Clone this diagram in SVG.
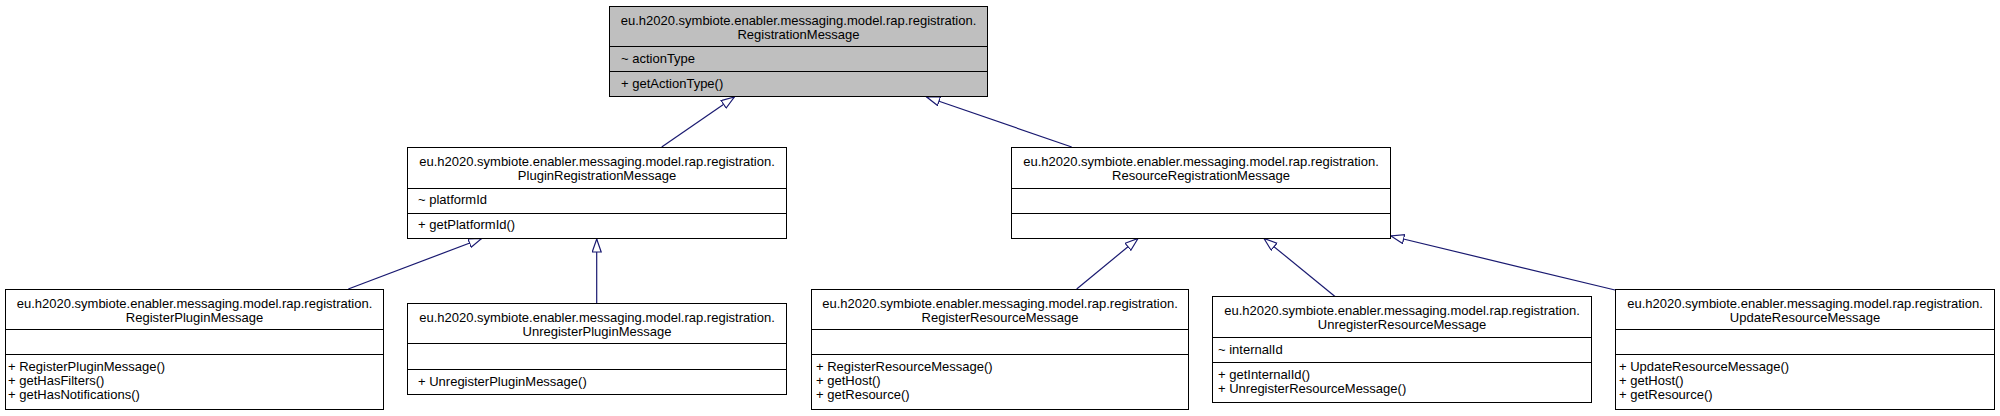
<svg xmlns="http://www.w3.org/2000/svg" width="2000" height="416" viewBox="0 0 2000 416">
<style>
.box{fill:#ffffff;stroke:#000000;stroke-width:1}
.root{fill:#bfbfbf}
.sep{stroke:#000000;stroke-width:1}
text{font-family:"Liberation Sans",Arial,sans-serif;font-size:13px;fill:#000000}
.t{text-anchor:middle}
.edge{fill:none;stroke:#191970;stroke-width:1.2}
</style>
<defs>
<marker id="inh" markerUnits="userSpaceOnUse" markerWidth="16" markerHeight="12" refX="13.5" refY="5" orient="auto">
<path d="M0.5,0.5 L13.5,5 L0.5,9.5 Z" fill="#ffffff" stroke="#191970" stroke-width="1.2"/>
</marker>
</defs>
<rect width="2000" height="416" fill="#ffffff"/>
<g id="connectors">
<line class="edge" x1="661.7" y1="147" x2="734.3" y2="97" marker-end="url(#inh)"/>
<line class="edge" x1="1071.7" y1="147" x2="926.7" y2="97" marker-end="url(#inh)"/>
<line class="edge" x1="348.3" y1="289" x2="481.7" y2="238.5" marker-end="url(#inh)"/>
<line class="edge" x1="596.7" y1="303" x2="596.7" y2="239" marker-end="url(#inh)"/>
<line class="edge" x1="1076.7" y1="289" x2="1138" y2="238.5" marker-end="url(#inh)"/>
<line class="edge" x1="1335" y1="296.5" x2="1264" y2="238.5" marker-end="url(#inh)"/>
<line class="edge" x1="1615" y1="290" x2="1391" y2="236" marker-end="url(#inh)"/>
</g>
<g id="RegistrationMessage">
<rect class="box root" x="609.5" y="6.5" width="378" height="90"/>
<line class="sep" x1="609.5" y1="46.5" x2="987.5" y2="46.5"/>
<line class="sep" x1="609.5" y1="71.5" x2="987.5" y2="71.5"/>
<text class="t" x="798.5" y="25">eu.h2020.symbiote.enabler.messaging.model.rap.registration.</text>
<text class="t" x="798.5" y="39">RegistrationMessage</text>
<text x="621" y="63">~ actionType</text>
<text x="621" y="88">+ getActionType()</text>
</g>
<g id="PluginRegistrationMessage">
<rect class="box" x="407.5" y="147.5" width="379" height="91"/>
<line class="sep" x1="407.5" y1="188.5" x2="786.5" y2="188.5"/>
<line class="sep" x1="407.5" y1="213.5" x2="786.5" y2="213.5"/>
<text class="t" x="597" y="166">eu.h2020.symbiote.enabler.messaging.model.rap.registration.</text>
<text class="t" x="597" y="180">PluginRegistrationMessage</text>
<text x="418" y="204">~ platformId</text>
<text x="418" y="229">+ getPlatformId()</text>
</g>
<g id="ResourceRegistrationMessage">
<rect class="box" x="1011.5" y="147.5" width="379" height="91"/>
<line class="sep" x1="1011.5" y1="188.5" x2="1390.5" y2="188.5"/>
<line class="sep" x1="1011.5" y1="213.5" x2="1390.5" y2="213.5"/>
<text class="t" x="1201" y="166">eu.h2020.symbiote.enabler.messaging.model.rap.registration.</text>
<text class="t" x="1201" y="180">ResourceRegistrationMessage</text>
</g>
<g id="RegisterPluginMessage">
<rect class="box" x="5.5" y="289.5" width="378" height="120"/>
<line class="sep" x1="5.5" y1="329.5" x2="383.5" y2="329.5"/>
<line class="sep" x1="5.5" y1="354.5" x2="383.5" y2="354.5"/>
<text class="t" x="194.5" y="308">eu.h2020.symbiote.enabler.messaging.model.rap.registration.</text>
<text class="t" x="194.5" y="322">RegisterPluginMessage</text>
<text x="8" y="371">+ RegisterPluginMessage()</text>
<text x="8" y="385">+ getHasFilters()</text>
<text x="8" y="399">+ getHasNotifications()</text>
</g>
<g id="UnregisterPluginMessage">
<rect class="box" x="407.5" y="303.5" width="379" height="91"/>
<line class="sep" x1="407.5" y1="343.5" x2="786.5" y2="343.5"/>
<line class="sep" x1="407.5" y1="369.5" x2="786.5" y2="369.5"/>
<text class="t" x="597" y="322">eu.h2020.symbiote.enabler.messaging.model.rap.registration.</text>
<text class="t" x="597" y="336">UnregisterPluginMessage</text>
<text x="418" y="386">+ UnregisterPluginMessage()</text>
</g>
<g id="RegisterResourceMessage">
<rect class="box" x="811.5" y="289.5" width="377" height="120"/>
<line class="sep" x1="811.5" y1="329.5" x2="1188.5" y2="329.5"/>
<line class="sep" x1="811.5" y1="354.5" x2="1188.5" y2="354.5"/>
<text class="t" x="1000" y="308">eu.h2020.symbiote.enabler.messaging.model.rap.registration.</text>
<text class="t" x="1000" y="322">RegisterResourceMessage</text>
<text x="816" y="371">+ RegisterResourceMessage()</text>
<text x="816" y="385">+ getHost()</text>
<text x="816" y="399">+ getResource()</text>
</g>
<g id="UnregisterResourceMessage">
<rect class="box" x="1212.5" y="296.5" width="379" height="106"/>
<line class="sep" x1="1212.5" y1="337.5" x2="1591.5" y2="337.5"/>
<line class="sep" x1="1212.5" y1="362.5" x2="1591.5" y2="362.5"/>
<text class="t" x="1402" y="315">eu.h2020.symbiote.enabler.messaging.model.rap.registration.</text>
<text class="t" x="1402" y="329">UnregisterResourceMessage</text>
<text x="1218" y="354">~ internalId</text>
<text x="1218" y="379">+ getInternalId()</text>
<text x="1218" y="393">+ UnregisterResourceMessage()</text>
</g>
<g id="UpdateResourceMessage">
<rect class="box" x="1615.5" y="289.5" width="379" height="120"/>
<line class="sep" x1="1615.5" y1="329.5" x2="1994.5" y2="329.5"/>
<line class="sep" x1="1615.5" y1="354.5" x2="1994.5" y2="354.5"/>
<text class="t" x="1805" y="308">eu.h2020.symbiote.enabler.messaging.model.rap.registration.</text>
<text class="t" x="1805" y="322">UpdateResourceMessage</text>
<text x="1619" y="371">+ UpdateResourceMessage()</text>
<text x="1619" y="385">+ getHost()</text>
<text x="1619" y="399">+ getResource()</text>
</g>
</svg>
